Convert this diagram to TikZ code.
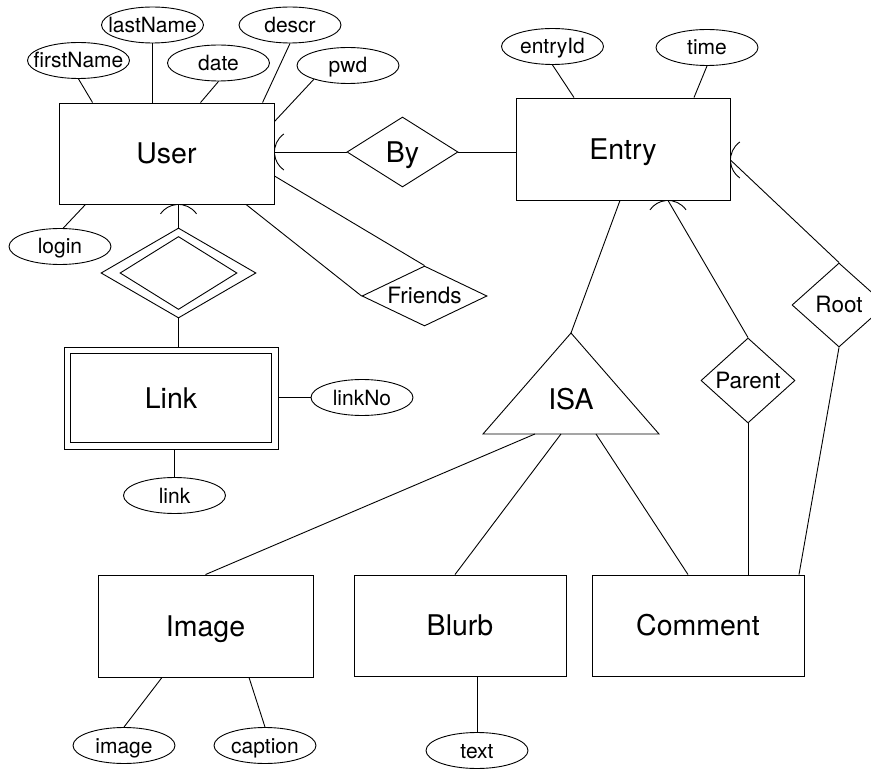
\documentclass[tikz,border=0pt]{standalone}
\usepackage{fontspec}
\setmainfont{TeX Gyre Heros}
\usetikzlibrary{shapes.geometric,calc}
\newcommand\entfont{\fontsize{28.5}{30}\selectfont}
\newcommand\relfont{\fontsize{22.5}{24}\selectfont}
\newcommand\attfont{\fontsize{21}{22}\selectfont}
\newcommand\keyarc[2]{\draw ([shift={(#2:22pt)}]#1) ++(#2+125:22pt) arc[start angle=#2+125, end angle=#2+235, radius=22pt];}
\begin{document}
\begin{tikzpicture}[x=1pt,y=-1pt,line width=0.9pt,
  ent/.style={draw, rectangle, minimum width=#1, minimum height=101pt, inner sep=0pt, font=\entfont, text height=20.5pt, text depth=0pt},
  attr/.style={draw, ellipse, minimum width=102pt, minimum height=36pt, inner sep=0pt,
    label={[font=\attfont, inner sep=0pt, text height=15pt, text depth=0pt]center:#1}},
  rel/.style={draw, diamond, inner sep=0pt,
    label={[font=\relfont, inner sep=0pt, text height=16pt, text depth=0pt]center:#1}},
  relbig/.style={draw, diamond, inner sep=0pt,
    label={[font=\entfont, inner sep=0pt, text height=20.5pt, text depth=0pt]center:#1}},
  weak/.style={draw, diamond, inner sep=0pt}]
\path[use as bounding box] (0,0) rectangle (871,770);
\fill[white] (0,0) rectangle (871,770);
\clip (0,0) rectangle (871,770);

% entities
\node[ent=215pt] (user) at (166.5,153.5) {User};
\node[ent=214pt, minimum height=102pt] (entry) at (623,149) {Entry};
\node[ent=214pt, minimum height=102pt] (link) at (171,398) {Link};
\draw ([shift={(7pt,-7pt)}]link.north west) rectangle ([shift={(-7pt,7pt)}]link.south east);
\node[ent=215pt, minimum height=102pt] (image) at (205.5,626) {Image};
\node[ent=212pt] (blurb) at (460,625.5) {Blurb};
\node[ent=212pt] (comment) at (698,625.5) {Comment};

% attributes
\node[attr=firstName] (fn) at (78.5,60.5) {};
\node[attr=lastName] (ln) at (152.5,25) {};
\node[attr=date] (date) at (218.5,63) {};
\node[attr=descr] (descr) at (290,25) {};
\node[attr=pwd] (pwd) at (348,65.5) {};
\node[attr=login] (login) at (60,246.5) {};
\node[attr=entryId] (entryid) at (552.5,46.5) {};
\node[attr=time] (time) at (707,47.5) {};
\node[attr=linkNo] (linkno) at (362,397.5) {};
\node[attr=link] (lk) at (174.5,495.5) {};
\node[attr=image] (imgat) at (124,745.5) {};
\node[attr=caption] (cap) at (265,745.5) {};
\node[attr=text] (txt) at (477,750.5) {};

% relationships
\node[relbig=By, minimum width=111pt, minimum height=70pt] (by) at (402.5,152) {};
\node[rel=Friends, minimum width=125pt, minimum height=60pt] (friends) at (424.5,296) {};
\node[rel=Parent, minimum width=94pt, minimum height=85pt] (parent) at (748,380.5) {};
\node[rel=Root, minimum width=94pt, minimum height=84pt] (root) at (839,305) {};
\node[weak, minimum width=155pt, minimum height=90pt] (wd) at (178.5,273) {};
\node[weak, minimum width=117pt, minimum height=73pt] (wdin) at (178.5,273) {};

% ISA triangle
\coordinate (isaT) at (571,333);
\coordinate (isaL) at (483,434);
\coordinate (isaR) at (659,434);
\draw (isaT) -- (isaL) -- (isaR) -- cycle;
\node[font=\entfont, text height=20.5pt, text depth=0pt, inner sep=0pt] (isa) at (571,399) {ISA};
\coordinate (b1) at ($(isaL)!0.295!(isaR)$);
\coordinate (b2) at ($(isaL)!0.443!(isaR)$);
\coordinate (b3) at ($(isaL)!0.642!(isaR)$);

% attribute connectors
\draw (fn.south) -- ([xshift=34pt]user.north west);
\draw (ln.south) -- (ln.south |- user.north);
\draw (date.south) -- ([xshift=142pt]user.north west);
\draw (descr.south) -- ([xshift=204pt]user.north west);
\draw (pwd.202) -- ([yshift=-19pt]user.north east);
\draw (login.80) -- ([xshift=27pt]user.south west);
\draw (entryid.south) -- ([xshift=-49pt]entry.north);
\draw (time.south) -- ([xshift=71pt]entry.north);
\draw (linkno.west) -- (linkno.west -| link.east);
\draw (lk.north) -- (lk.north |- link.south);
\draw (imgat.north) -- ([xshift=-43.5pt]image.south);
\draw (cap.north) -- ([xshift=43.5pt]image.south);
\draw (txt.north) -- (txt.north |- blurb.south);

% relationship connectors
\coordinate (pU) at (by.west -| user.east);
\draw (by.west) -- (pU);
\keyarc{pU}{0}
\draw (by.east) -- (by.east -| entry.west);
\draw ([yshift=-22.5pt]user.east) -- (friends.north);
\draw ([xshift=79.5pt]user.south) -- (friends.west);
\coordinate (pUb) at (wd.north |- user.south);
\draw (wd.north) -- (pUb);
\keyarc{pUb}{-90}
\draw (wd.south) -- (wd.south |- link.north);
\coordinate (pE) at ([yshift=-11pt]entry.east);
\draw (root.north) -- (pE);
\keyarc{pE}{0}
\coordinate (pEb) at ([xshift=45pt]entry.south);
\draw (parent.north) -- (pEb);
\keyarc{pEb}{-90}
\draw (parent.south) -- (parent.south |- comment.north);
\draw (root.south) -- ([xshift=101pt]comment.north);

% ISA connectors
\draw ([xshift=-3pt]entry.south) -- (isaT);
\draw (b1) -- (image.north);
\draw (b2) -- ([xshift=-5pt]blurb.north);
\draw (b3) -- ([xshift=-10pt]comment.north);
\end{tikzpicture}
\end{document}
